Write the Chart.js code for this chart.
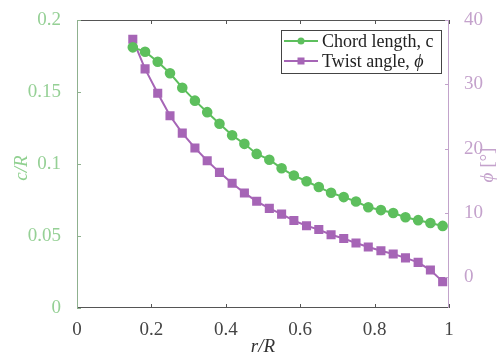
<!DOCTYPE html>
<html>
<head>
<meta charset="utf-8">
<script src="https://cdn.jsdelivr.net/npm/chart.js@4.4.1/dist/chart.umd.min.js"></script>
<style>
  html, body { margin: 0; padding: 0; background: #fff; }
  #wrap { width: 500px; height: 363px; }
</style>
</head>
<body>
<div id="wrap"><canvas id="chart"></canvas></div>
<script>
// r/R stations along the blade
const rR = [0.150, 0.183, 0.217, 0.250, 0.283, 0.317, 0.350, 0.383, 0.417, 0.450,
            0.483, 0.517, 0.550, 0.583, 0.617, 0.650, 0.683, 0.717, 0.750, 0.783,
            0.817, 0.850, 0.883, 0.917, 0.950, 0.983];
// chord length c/R
const chord = [0.181, 0.178, 0.171, 0.163, 0.153, 0.144, 0.136, 0.128, 0.120, 0.114,
               0.107, 0.103, 0.097, 0.092, 0.088, 0.084, 0.080, 0.077, 0.074, 0.070,
               0.068, 0.066, 0.063, 0.061, 0.059, 0.057];
// twist angle phi [deg]
const twist = [37.0, 32.4, 28.6, 25.1, 22.4, 20.1, 18.1, 16.3, 14.6, 13.1,
               11.8, 10.7, 9.8, 8.8, 8.0, 7.4, 6.6, 6.0, 5.3, 4.7,
               4.1, 3.6, 3.0, 2.3, 1.1, -0.7];

const xTicks = [0, 0.2, 0.4, 0.6, 0.8, 1];
const cTicks = [0, 0.05, 0.1, 0.15, 0.2];
const phiTicks = [0, 10, 20, 30, 40];

const green = '#5dbf5d';
const purple = '#a665b6';
const serif = '"Liberation Serif", "DejaVu Serif", serif';

function pts(ys) {
    return rR.map((x, i) => ({ x: x, y: ys[i] }));
}

function setTicks(list) {
    return function (scale) {
        scale.ticks = list.map(v => ({ value: v }));
    };
}

const plain = v => String(v);

// inward tick marks, box outline, axis titles and legend
const decor = {
    id: 'decor',
    afterDraw(chart) {
        const ctx = chart.ctx;
        const a = chart.chartArea;
        const sx = chart.scales.x, sc = chart.scales.yc, sp = chart.scales.yp;
        ctx.save();
        ctx.lineWidth = 1;

        // top and bottom borders with ticks
        ctx.strokeStyle = '#555';
        ctx.beginPath();
        ctx.moveTo(a.left, a.top + 0.5); ctx.lineTo(a.right, a.top + 0.5);
        ctx.moveTo(a.left, a.bottom - 0.5); ctx.lineTo(a.right, a.bottom - 0.5);
        xTicks.forEach(v => {
            const px = Math.round(sx.getPixelForValue(v)) + 0.5;
            ctx.moveTo(px, a.top); ctx.lineTo(px, a.top + 4);
            ctx.moveTo(px, a.bottom); ctx.lineTo(px, a.bottom - 4);
        });
        ctx.stroke();

        // left axis
        ctx.strokeStyle = '#8fb18f';
        ctx.beginPath();
        ctx.moveTo(a.left + 0.5, a.top); ctx.lineTo(a.left + 0.5, a.bottom);
        cTicks.forEach(v => {
            const py = Math.round(sc.getPixelForValue(v)) + 0.5;
            ctx.moveTo(a.left, py); ctx.lineTo(a.left + 4, py);
        });
        ctx.stroke();

        // right axis
        ctx.strokeStyle = '#c2a3cb';
        ctx.beginPath();
        ctx.moveTo(a.right - 0.5, a.top); ctx.lineTo(a.right - 0.5, a.bottom);
        phiTicks.forEach(v => {
            const py = Math.round(sp.getPixelForValue(v)) + 0.5;
            ctx.moveTo(a.right, py); ctx.lineTo(a.right - 4, py);
        });
        ctx.stroke();

        // axis titles
        ctx.textAlign = 'center';
        ctx.textBaseline = 'middle';
        ctx.fillStyle = '#333';
        ctx.font = 'italic 19px ' + serif;
        ctx.fillText('r/R', (a.left + a.right) / 2, 347);

        ctx.save();
        ctx.translate(22, 168);
        ctx.rotate(-Math.PI / 2);
        ctx.fillStyle = '#8fd08f';
        ctx.fillText('c/R', 0, 0);
        ctx.restore();

        ctx.save();
        ctx.translate(488, 165);
        ctx.rotate(-Math.PI / 2);
        ctx.fillStyle = '#c4a2cc';
        const t1 = 'ϕ', t2 = ' [°]';
        ctx.font = 'italic 19px ' + serif;
        const w1 = ctx.measureText(t1).width;
        ctx.font = '19px ' + serif;
        const w2 = ctx.measureText(t2).width;
        ctx.textAlign = 'left';
        ctx.font = 'italic 19px ' + serif;
        ctx.fillText(t1, -(w1 + w2) / 2, 0);
        ctx.font = '19px ' + serif;
        ctx.fillText(t2, -(w1 + w2) / 2 + w1, 0);
        ctx.restore();

        // legend
        const lx = 281, ly = 30, lw = 160, lh = 43;
        ctx.fillStyle = '#fff';
        ctx.fillRect(lx, ly, lw, lh);
        ctx.strokeStyle = '#444';
        ctx.strokeRect(lx + 0.5, ly + 0.5, lw, lh);
        const rows = [
            { ds: chart.data.datasets[0], parts: [['Chord length, c', '']] },
            { ds: chart.data.datasets[1], parts: [['Twist angle, ', ''], ['ϕ', 'italic ']] }
        ];
        rows.forEach((r, i) => {
            const y = ly + 11 + i * 20;
            ctx.strokeStyle = r.ds.borderColor;
            ctx.lineWidth = 2;
            ctx.beginPath();
            ctx.moveTo(lx + 3, y); ctx.lineTo(lx + 37, y);
            ctx.stroke();
            ctx.fillStyle = r.ds.pointBackgroundColor;
            if (r.ds.pointStyle === 'circle') {
                ctx.beginPath();
                ctx.arc(lx + 20, y, 3.5, 0, Math.PI * 2);
                ctx.fill();
            } else {
                ctx.fillRect(lx + 16.5, y - 3.5, 7, 7);
            }
            ctx.fillStyle = '#222';
            ctx.textAlign = 'left';
            let tx = lx + 41;
            r.parts.forEach(p => {
                ctx.font = p[1] + '18px ' + serif;
                ctx.fillText(p[0], tx, y + 1);
                tx += ctx.measureText(p[0]).width;
            });
        });
        ctx.restore();
    }
};

new Chart(document.getElementById('chart'), {
    type: 'line',
    data: {
        datasets: [{
            label: 'Chord length, c',
            data: pts(chord),
            yAxisID: 'yc',
            borderColor: green,
            backgroundColor: green,
            pointBackgroundColor: green,
            pointBorderColor: green,
            pointStyle: 'circle',
            pointRadius: 4.3,
            borderWidth: 2,
            tension: 0
        }, {
            label: 'Twist angle, ϕ',
            data: pts(twist),
            yAxisID: 'yp',
            borderColor: purple,
            backgroundColor: purple,
            pointBackgroundColor: purple,
            pointBorderColor: purple,
            pointStyle: 'rect',
            pointRadius: 5,
            borderWidth: 2,
            tension: 0
        }]
    },
    options: {
        responsive: true,
        maintainAspectRatio: false,
        animation: false,
        layout: { padding: { top: 20 } },
        plugins: {
            legend: { display: false },
            tooltip: { enabled: false }
        },
        scales: {
            x: {
                type: 'linear',
                min: 0,
                max: 1,
                afterBuildTicks: setTicks(xTicks),
                afterFit(s) { s.height = 55; },
                border: { display: false },
                grid: { display: false },
                ticks: {
                    color: '#444',
                    padding: 3,
                    callback: plain,
                    font: { family: serif, size: 19 }
                }
            },
            yc: {
                position: 'left',
                min: 0,
                max: 0.2,
                afterBuildTicks: setTicks(cTicks),
                afterFit(s) { s.width = 77; },
                border: { display: false },
                grid: { display: false },
                ticks: {
                    color: '#95d095',
                    padding: 8,
                    callback: plain,
                    font: { family: serif, size: 19 }
                }
            },
            yp: {
                position: 'right',
                min: -4.8,
                max: 40,
                afterBuildTicks: setTicks(phiTicks),
                afterFit(s) { s.width = 51; },
                border: { display: false },
                grid: { display: false },
                ticks: {
                    color: '#c4a2cc',
                    padding: 7,
                    callback: plain,
                    font: { family: serif, size: 19 }
                }
            }
        }
    },
    plugins: [decor]
});
</script>
</body>
</html>
